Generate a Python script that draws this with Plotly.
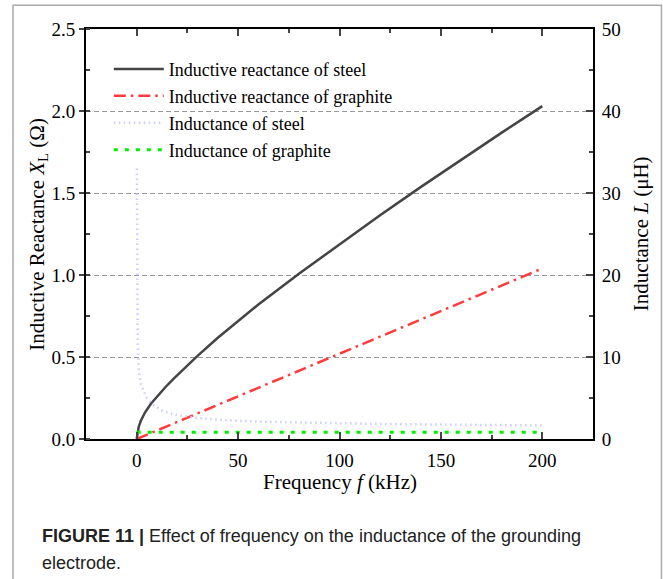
import plotly.graph_objects as go

# ---- data ----
f_steel_x = [0, 0.5, 1, 2, 4, 7, 10, 14, 18, 24, 30, 40, 50, 60, 80, 100, 120, 140, 160, 180, 200]
x_steel = [0, 0.05, 0.075, 0.11, 0.16, 0.215, 0.26, 0.314, 0.365, 0.438, 0.507, 0.617, 0.721, 0.82,
           1.008, 1.188, 1.364, 1.536, 1.704, 1.868, 2.03]

f_graph_x = [0, 50, 100, 150, 200]
x_graph = [0, 0.26, 0.52, 0.78, 1.04]

f_steel_l = [0.1, 0.2, 0.3, 0.5, 1, 2, 3.5, 5, 8, 13, 20, 30, 45, 60, 80, 100, 125, 150, 175, 200]
l_steel = [33, 22, 16, 12, 8.5, 6.8, 5.8, 5.0, 4.2, 3.4, 2.9, 2.56, 2.28, 2.12, 2.02, 1.9, 1.82, 1.76, 1.7, 1.65]

f_graph_l = [0, 50, 100, 150, 200]
l_graph = [0.82, 0.82, 0.82, 0.82, 0.82]

x_ticks = [0, 50, 100, 150, 200]
y_left_ticks = [0.0, 0.5, 1.0, 1.5, 2.0, 2.5]
y_right_ticks = [0, 10, 20, 30, 40, 50]

SERIF = "Liberation Serif, Times New Roman, serif"
SANS = "Liberation Sans, Arial, sans-serif"

fig = go.Figure()
fig.add_trace(go.Scatter(x=f_steel_x, y=x_steel, mode="lines", name="Inductive reactance of steel",
                         line=dict(color="#444444", width=2.5), legendgroup="a"))
fig.add_trace(go.Scatter(x=f_graph_x, y=x_graph, mode="lines", name="Inductive reactance of graphite",
                         line=dict(color="#ff3b3b", width=2.5, dash="12px,5px,2.5px,5px"), legendgroup="b"))
fig.add_trace(go.Scatter(x=f_steel_l, y=l_steel, mode="lines", name="Inductance of steel", yaxis="y2",
                         line=dict(color="#ccccff", width=2.5, dash="1.5px,3.5px"), legendgroup="c"))
fig.add_trace(go.Scatter(x=f_graph_l, y=l_graph, mode="lines", name="Inductance of graphite", yaxis="y2",
                         line=dict(color="#00ee00", width=3, dash="4px,7px"), legendgroup="d"))

fig.update_layout(
    width=663, height=579,
    margin=dict(l=86, r=70, t=29, b=140, autoexpand=False),
    paper_bgcolor="white", plot_bgcolor="white",
    font=dict(family=SERIF, size=18, color="black"),
    showlegend=True,
    legend=dict(x=0.045, y=0.947, xanchor="left", yanchor="top", bgcolor="rgba(0,0,0,0)",
                font=dict(family=SERIF, size=18), tracegroupgap=0.5, itemwidth=50),
    xaxis=dict(range=[-25, 225], tickvals=x_ticks, ticks="inside", ticklen=7, tickwidth=1.5,
               showline=True, linecolor="black", linewidth=2, mirror="ticks", showgrid=False,
               zeroline=False, minor=dict(dtick=25, tick0=0, ticks="inside", ticklen=4, tickwidth=1.5),
               tickfont=dict(family=SERIF, size=19), ticklabelstandoff=3),
    yaxis=dict(range=[0, 2.5], tickvals=y_left_ticks, tickformat=".1f", ticks="outside", ticklen=5,
               tickwidth=1.5, showline=True, linecolor="black", linewidth=2, zeroline=False,
               showgrid=True, gridcolor="#999999", griddash="5px,3px", gridwidth=1,
               minor=dict(dtick=0.25, tick0=0, ticks="inside", ticklen=4, tickwidth=1.5, showgrid=False),
               tickfont=dict(family=SERIF, size=19)),
    yaxis2=dict(range=[0, 50], tickvals=y_right_ticks, overlaying="y", side="right", ticks="inside",
                ticklen=7, tickwidth=1.5, showline=True, linecolor="black", linewidth=2,
                showgrid=False, zeroline=False,
                minor=dict(dtick=5, tick0=0, ticks="inside", ticklen=4, tickwidth=1.5),
                tickfont=dict(family=SERIF, size=19), ticklabelstandoff=3),
)

# axis titles
fig.add_annotation(text="Inductive Reactance <i>X</i><sub>L</sub> (Ω)", xref="paper", yref="paper",
                   x=-0.095, y=0.5, xanchor="center", yanchor="middle", textangle=-90, showarrow=False,
                   font=dict(family=SERIF, size=21))
fig.add_annotation(text="Inductance <i>L</i> (μH)", xref="paper", yref="paper",
                   x=1.095, y=0.5, xanchor="center", yanchor="middle", textangle=-90, showarrow=False,
                   font=dict(family=SERIF, size=21))
fig.add_annotation(text="Frequency <i>f</i> (kHz)", xref="paper", yref="paper",
                   x=0.5, y=-0.104, xanchor="center", yanchor="middle", showarrow=False,
                   font=dict(family=SERIF, size=21))

# caption
fig.add_annotation(text="<b>FIGURE 11 |</b> Effect of frequency on the inductance of the grounding",
                   xref="paper", yref="paper", x=-0.091, y=-0.236, xanchor="left", yanchor="middle",
                   showarrow=False, font=dict(family=SANS, size=18, color="#222"))
fig.add_annotation(text="electrode.", xref="paper", yref="paper", x=-0.091, y=-0.302,
                   xanchor="left", yanchor="middle", showarrow=False,
                   font=dict(family=SANS, size=18, color="#222"))

# outer frame
fig.add_shape(type="rect", xref="paper", yref="paper", x0=-0.144, x1=1.135, y0=-0.40, y1=1.058,
              line=dict(color="#aaaaaa", width=1.5), fillcolor="rgba(0,0,0,0)", layer="below")

fig.write_html("out.html", config={"displayModeBar": False},
               post_script="document.body.style.margin='0px';")
